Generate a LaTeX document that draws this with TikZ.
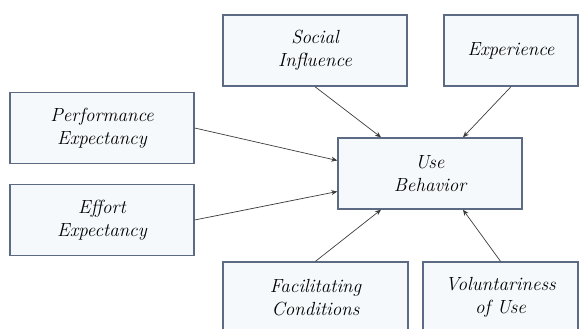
\documentclass[tikz,border=0pt]{standalone}
\usepackage{xcolor}
\usepackage{tikz}
\usetikzlibrary{arrows.meta}

\definecolor{boxline}{RGB}{92,106,132}
\definecolor{boxfill}{RGB}{246,249,252}
\definecolor{arrowline}{RGB}{60,60,60}

\begin{document}
\begin{tikzpicture}[x=1pt, y=-1pt, every node/.style={draw=boxline, line width=1.4pt, fill=boxfill, align=center, font=\fontsize{19}{23}\selectfont\itshape, minimum height=71pt, inner sep=0pt}, link/.style={draw=arrowline, line width=0.7pt, -{Stealth[length=6pt,width=5pt]}}]
    \useasboundingbox (0,0) rectangle (579,329);
    \node (social) [minimum width=184pt] at (315,50.5) {Social\\Influence};
    \node (experience) [minimum width=134pt] at (511,50.5) {Experience};
    \node (performance) [minimum width=184pt] at (102,128) {Performance\\Expectancy};
    \node (effort) [minimum width=184pt] at (102,220) {Effort\\Expectancy};
    \node (use) [minimum width=184pt] at (430,173.5) {Use\\Behavior};
    \node (facilitating) [minimum width=185pt] at (315.5,297.5) {Facilitating\\Conditions};
    \node (voluntariness) [minimum width=155pt] at (500.5,297.5) {Voluntariness\\of Use};
    \draw[link] (social.south) -- ([xshift=-49pt]use.north);
    \draw[link] (experience.south) -- ([xshift=33pt]use.north);
    \draw[link] (performance.east) -- ([yshift=13pt]use.west);
    \draw[link] (effort.east) -- ([yshift=-18pt]use.west);
    \draw[link] (facilitating.north) -- ([xshift=-49pt]use.south);
    \draw[link] (voluntariness.north) -- ([xshift=33pt]use.south);
\end{tikzpicture}
\end{document}
